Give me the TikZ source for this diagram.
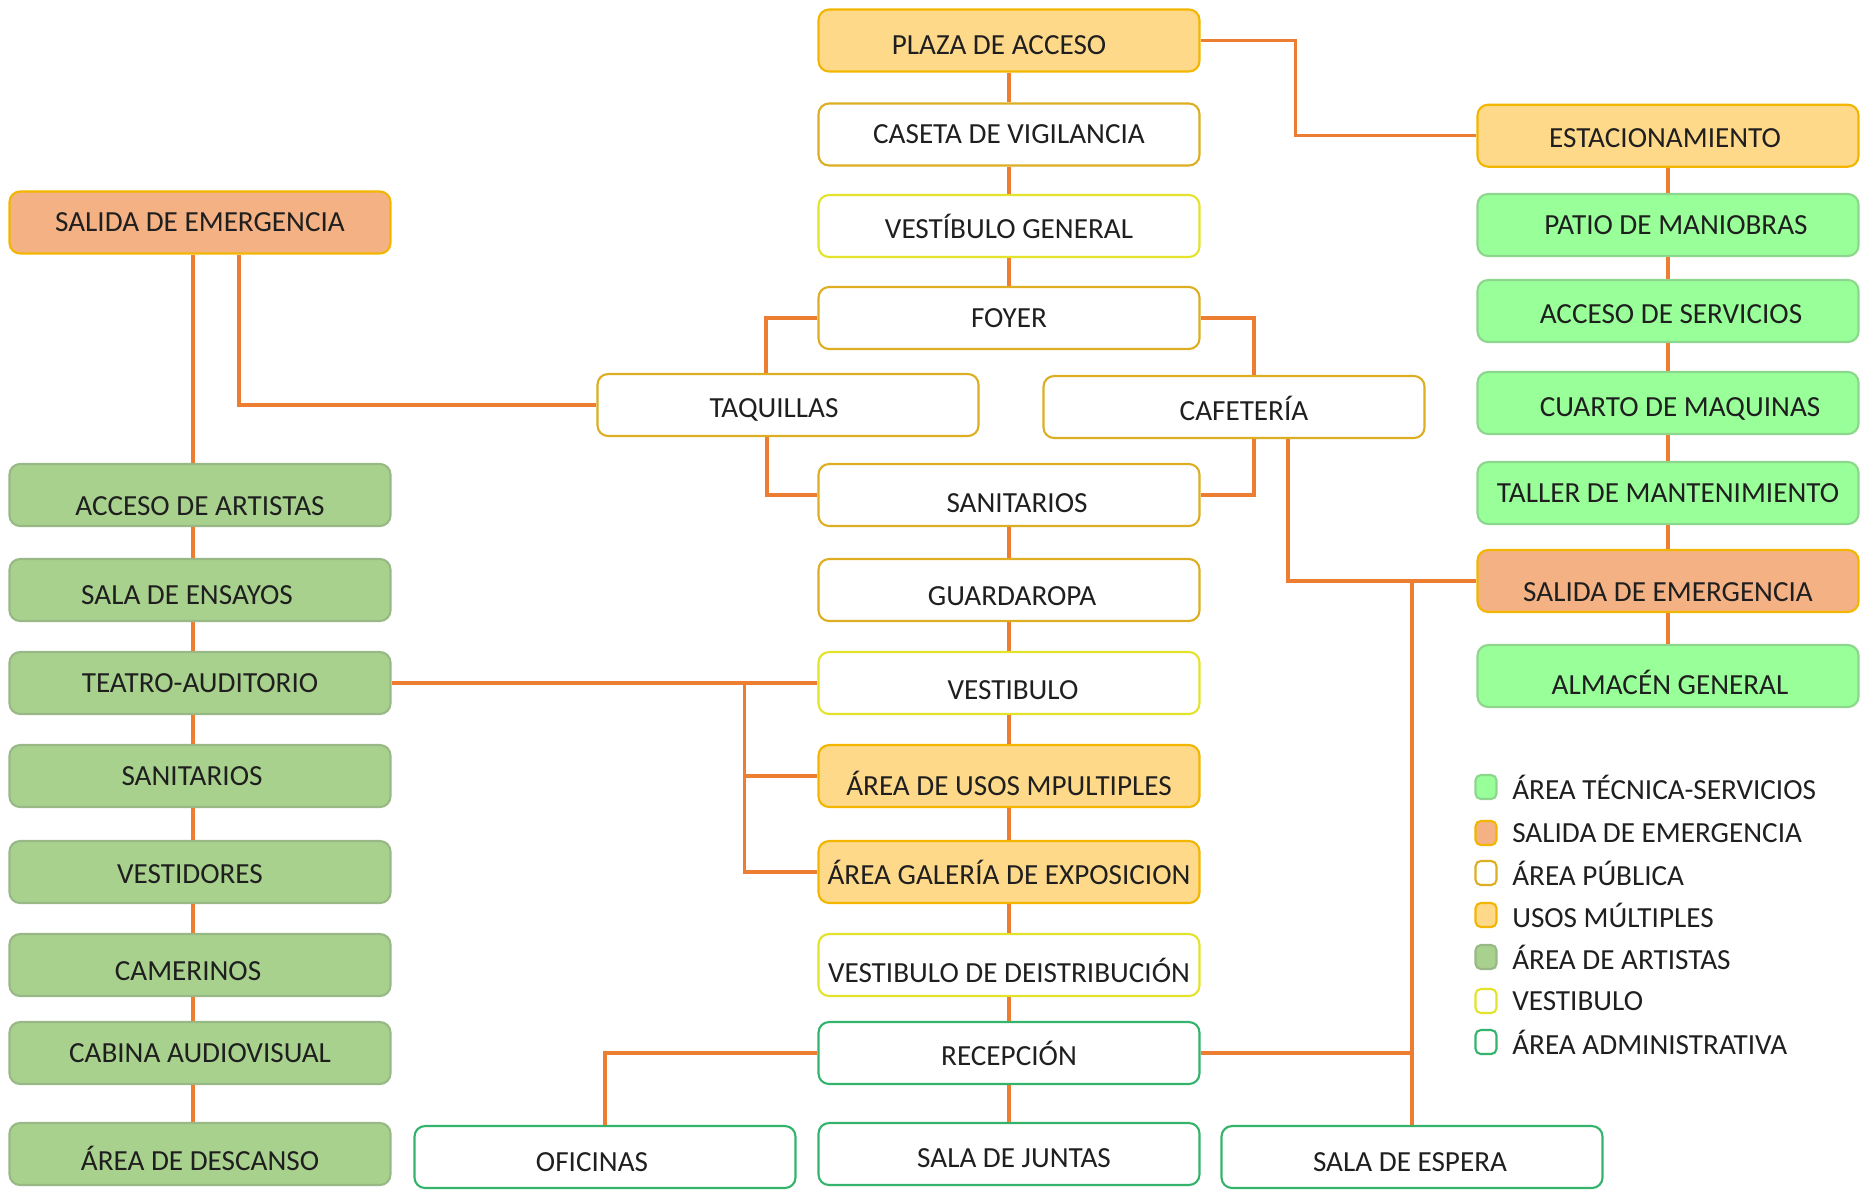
\documentclass[tikz,border=0pt]{standalone}
\usepackage{fontspec}
\setmainfont{Carlito}
\usepackage{tikz}
\usetikzlibrary{positioning,calc}
\definecolor{PAline}{HTML}{ED7D31}
\definecolor{PAgold}{HTML}{DDAE22}
\definecolor{PAyellow}{HTML}{E3E32C}
\definecolor{PAusos}{HTML}{FFD98A}
\definecolor{PAusosB}{HTML}{F2B600}
\definecolor{PAsalida}{HTML}{F4B183}
\definecolor{PAartist}{HTML}{A9D18E}
\definecolor{PAartistB}{HTML}{98B886}
\definecolor{PAtec}{HTML}{99FF99}
\definecolor{PAtecB}{HTML}{8DD68D}
\definecolor{PAadmin}{HTML}{33B36B}
\newcommand{\despl}[3]{\raisebox{#2}[\height][\depth]{\hspace*{#1}#3\hspace*{-#1}}}
\tikzset{
  pa/box/.style={draw, rounded corners=3pt, line width=0.6pt, minimum width=3.81cm, minimum height=0.62cm, inner sep=0pt, align=center, font=\fontsize{8.3}{10}\selectfont, text=black!88},
  pa/publica/.style={pa/box, draw=PAgold, fill=white},
  pa/vestibulo/.style={pa/box, draw=PAyellow, fill=white},
  pa/usos/.style={pa/box, draw=PAusosB, fill=PAusos},
  pa/salida/.style={pa/box, draw=PAusosB, fill=PAsalida},
  pa/artistas/.style={pa/box, draw=PAartistB, fill=PAartist},
  pa/tecnica/.style={pa/box, draw=PAtecB, fill=PAtec},
  pa/admin/.style={pa/box, draw=PAadmin, fill=white},
  pa/line/.style={draw=PAline, line width=1pt},
  pa/swatch/.style={draw, rounded corners=1.5pt, line width=0.6pt, minimum width=0.21cm, minimum height=0.24cm, inner sep=0pt},
  pa/legend/.style={font=\fontsize{8.3}{10}\selectfont, text=black!88, inner sep=0pt}
}

\begin{document}
\begin{tikzpicture}
\useasboundingbox (0,0) rectangle (18.66,-11.89);

\node[pa/usos] (c1) at (10.09,-0.405) {\despl{-0.10cm}{-0.05cm}{PLAZA DE ACCESO}};
\node[pa/publica] (c2) at (10.09,-1.345) {CASETA DE VIGILANCIA};
\node[pa/vestibulo] (c3) at (10.09,-2.26) {VESTÍBULO GENERAL};
\node[pa/publica] (c4) at (10.09,-3.18) {FOYER};
\node[pa/publica] (t1) at (7.88,-4.05) {\despl{-0.14cm}{-0.05cm}{TAQUILLAS}};
\node[pa/publica] (t2) at (12.34,-4.07) {\despl{0.10cm}{-0.01cm}{CAFETERÍA}};
\node[pa/publica] (c5) at (10.09,-4.95) {\despl{0.08cm}{-0.08cm}{SANITARIOS}};
\node[pa/publica] (c6) at (10.09,-5.90) {\despl{0.03cm}{-0.06cm}{GUARDAROPA}};
\node[pa/vestibulo] (c7) at (10.09,-6.83) {\despl{0.04cm}{-0.07cm}{VESTIBULO}};
\node[pa/usos] (c8) at (10.09,-7.76) {\despl{0cm}{-0.07cm}{ÁREA DE USOS MPULTIPLES}};
\node[pa/usos] (c9) at (10.09,-8.72) {ÁREA GALERÍA DE EXPOSICION};
\node[pa/vestibulo] (c10) at (10.09,-9.65) {\despl{0cm}{-0.05cm}{VESTIBULO DE DEISTRIBUCIÓN}};
\node[pa/admin] (c11) at (10.09,-10.53) {RECEPCIÓN};
\node[pa/admin] (c12) at (10.09,-11.54) {\despl{0.05cm}{-0.04cm}{SALA DE JUNTAS}};
\node[pa/admin] (o1) at (6.05,-11.57) {\despl{-0.13cm}{-0.05cm}{OFICINAS}};
\node[pa/admin] (o2) at (14.12,-11.57) {\despl{-0.02cm}{-0.05cm}{SALA DE ESPERA}};

\node[pa/salida] (l1) at (2.00,-2.225) {SALIDA DE EMERGENCIA};
\node[pa/artistas] (l2) at (2.00,-4.95) {\despl{0cm}{-0.11cm}{ACCESO DE ARTISTAS}};
\node[pa/artistas] (l3) at (2.00,-5.90) {\despl{-0.13cm}{-0.05cm}{SALA DE ENSAYOS}};
\node[pa/artistas] (l4) at (2.00,-6.83) {TEATRO-AUDITORIO};
\node[pa/artistas] (l5) at (2.00,-7.76) {\despl{-0.08cm}{0cm}{SANITARIOS}};
\node[pa/artistas] (l6) at (2.00,-8.72) {\despl{-0.10cm}{-0.02cm}{VESTIDORES}};
\node[pa/artistas] (l7) at (2.00,-9.65) {\despl{-0.12cm}{-0.06cm}{CAMERINOS}};
\node[pa/artistas] (l8) at (2.00,-10.53) {CABINA AUDIOVISUAL};
\node[pa/artistas] (l9) at (2.00,-11.54) {\despl{0cm}{-0.04cm}{ÁREA DE DESCANSO}};

\node[pa/usos] (r1) at (16.68,-1.357) {\despl{-0.03cm}{-0.02cm}{ESTACIONAMIENTO}};
\node[pa/tecnica] (r2) at (16.68,-2.25) {\despl{0.08cm}{0cm}{PATIO DE MANIOBRAS}};
\node[pa/tecnica] (r3) at (16.68,-3.11) {\despl{0.03cm}{-0.03cm}{ACCESO DE SERVICIOS}};
\node[pa/tecnica] (r4) at (16.68,-4.03) {\despl{0.12cm}{-0.06cm}{CUARTO DE MAQUINAS}};
\node[pa/tecnica] (r5) at (16.68,-4.93) {TALLER DE MANTENIMIENTO};
\node[pa/salida] (r6) at (16.68,-5.81) {\despl{0cm}{-0.11cm}{SALIDA DE EMERGENCIA}};
\node[pa/tecnica] (r7) at (16.68,-6.76) {\despl{0.02cm}{-0.06cm}{ALMACÉN GENERAL}};

\foreach \a/\b in {c1/c2,c2/c3,c3/c4,c5/c6,c6/c7,c7/c8,c8/c9,c9/c10,c10/c11,c11/c12,r1/r2,r2/r3,r3/r4,r4/r5,r5/r6,r6/r7}
  \draw[pa/line] (\a.south) -- (\b.north);
\foreach \a/\b in {l1/l2,l2/l3,l3/l4,l4/l5,l5/l6,l6/l7,l7/l8,l8/l9}
  \draw[pa/line] ([xshift=-0.07cm]\a.south) -- ([xshift=-0.07cm]\b.north);

\draw[pa/line] (c1.east) -- ++(0.95,0) |- (r1.west);
\draw[pa/line] (c4.west) -| ([xshift=-0.22cm]t1.north);
\draw[pa/line] (c4.east) -| ([xshift=0.2cm]t2.north);
\draw[pa/line] ([xshift=-0.21cm]t1.south) |- (c5.west);
\draw[pa/line] ([xshift=0.2cm]t2.south) |- (c5.east);
\draw[pa/line] ([xshift=0.39cm]l1.south) |- (t1.west);
\draw[pa/line] ([xshift=0.54cm]t2.south) |- (r6.west);
\coordinate (j1) at (o2.north |- r6.west);
\draw[pa/line] (j1) -- (o2.north);
\draw[pa/line] (c11.east) -- (c11.east -| o2.north);
\draw[pa/line] (c7.west) -- (l4.east);
\coordinate (j2) at ($(c7.west)+(-0.73,0)$);
\draw[pa/line] (j2) |- (c8.west);
\draw[pa/line] (j2) |- (c9.west);
\draw[pa/line] (c11.west) -| (o1.north);

\node[pa/swatch, draw=PAtecB, fill=PAtec] (k1) at (14.86,-7.87) {};
\node[pa/swatch, draw=PAusosB, fill=PAsalida] (k2) at (14.86,-8.33) {};
\node[pa/swatch, draw=PAgold, fill=white] (k3) at (14.86,-8.73) {};
\node[pa/swatch, draw=PAusosB, fill=PAusos] (k4) at (14.86,-9.15) {};
\node[pa/swatch, draw=PAartistB, fill=PAartist] (k5) at (14.86,-9.57) {};
\node[pa/swatch, draw=PAyellow, fill=white] (k6) at (14.86,-10.01) {};
\node[pa/swatch, draw=PAadmin, fill=white] (k7) at (14.86,-10.42) {};
\node[pa/legend, right=0.14cm of k1] (kt1) {ÁREA TÉCNICA-SERVICIOS};
\node[pa/legend, right=0.14cm of k2] (kt2) {SALIDA DE EMERGENCIA};
\node[pa/legend, right=0.14cm of k3] (kt3) {ÁREA PÚBLICA};
\node[pa/legend, right=0.14cm of k4] (kt4) {USOS MÚLTIPLES};
\node[pa/legend, right=0.14cm of k5] (kt5) {ÁREA DE ARTISTAS};
\node[pa/legend, right=0.14cm of k6] (kt6) {VESTIBULO};
\node[pa/legend, right=0.14cm of k7] (kt7) {ÁREA ADMINISTRATIVA};
\end{tikzpicture}
\end{document}
